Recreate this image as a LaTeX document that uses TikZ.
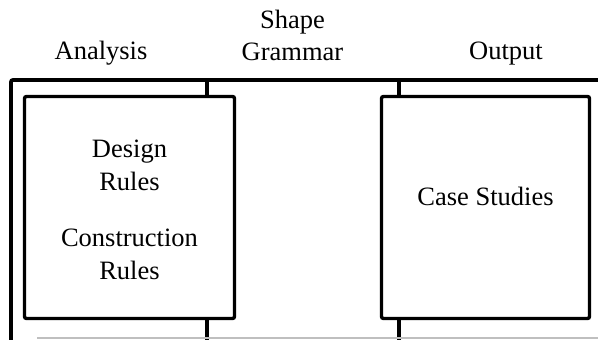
\documentclass[tikz,border=0pt]{standalone}
\usepackage{fontspec}
\setmainfont{Liberation Serif}
\usetikzlibrary{positioning}

\begin{document}
\begin{tikzpicture}[x=1pt, y=1pt,
		heavy/.style={line width=3.8pt},
		tick/.style={line width=3.2pt},
		stage/.style={draw, line width=3.4pt, rounded corners=2pt, minimum height=222pt, inner sep=0pt},
		txt/.style={font=\fontsize{26.5}{33}\selectfont, align=center, inner sep=0pt},
		head/.style={font=\fontsize{26.5}{32}\selectfont, align=center, inner sep=0pt}]
		\useasboundingbox (0,0) rectangle (598,340);

		% frame
		\coordinate (low) at (11,0);
		\coordinate (corner) at (11,260);
		\coordinate (right) at (598,260);
		\draw[heavy, rounded corners=2pt] (low) -- (corner) -- (right);

		\node[stage, minimum width=210pt] (leftbox) at (129.5,132.5) {};
		\node[stage, minimum width=208pt] (rightbox) at (485.5,132.5) {};

		\coordinate (ta) at (207,260);
		\coordinate (tb) at (399,260);
		\coordinate (ba) at (207,0);
		\coordinate (bb) at (399,0);
		\draw[tick] (ta) -- (ta |- leftbox.north);
		\draw[tick] (tb) -- (tb |- rightbox.north);
		\draw[tick] (leftbox.south -| ba) -- (ba);
		\draw[tick] (rightbox.south -| bb) -- (bb);

		\coordinate (ga) at (37,2);
		\coordinate (gb) at (598,2);
		\draw[gray!50, line width=1.3pt] (ga) -- (gb);

		% labels
		\node[head, anchor=base] (analysis) at (101,280) {Analysis};
		\node[head, anchor=north] (grammar) at (292.5,330) {Shape\\Grammar};
		\node[head, anchor=base] (output) at (506,280) {Output};
		\node[txt, below=45pt of leftbox.north] (rules) {Design\\Rules\\[23pt]Construction\\Rules};
		\node[txt, below=92pt of rightbox.north] (cases) {Case Studies};

	\end{tikzpicture}
\end{document}
